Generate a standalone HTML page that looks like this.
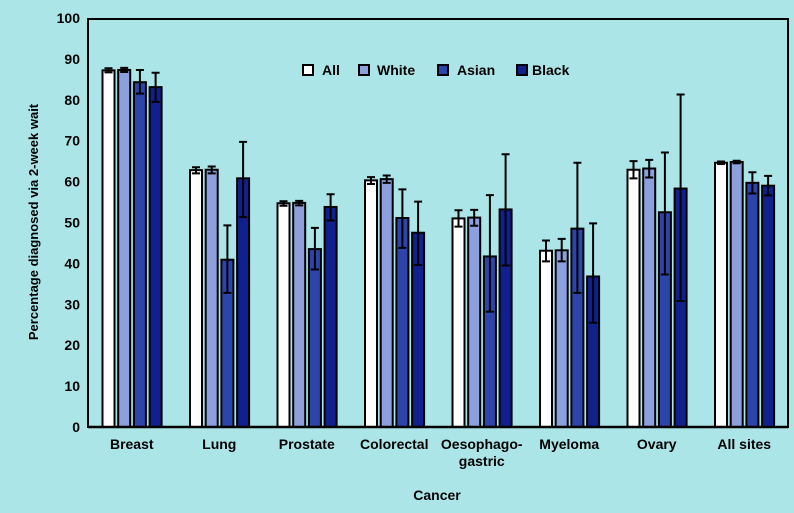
<!DOCTYPE html>
<html><head><meta charset="utf-8"><style>
body{margin:0;background:#ace5e7;}
svg{display:block;font-family:"Liberation Sans",sans-serif;}
</style></head><body>
<svg id="c" width="794" height="513">
<rect width="794" height="513" fill="#ace5e7"/>
</svg>
<script>
const categories=["Breast","Lung","Prostate","Colorectal","Oesophago-|gastric","Myeloma","Ovary","All sites"];
const seriesNames=["All","White","Asian","Black"];
const allVals=[87.2,62.8,54.7,60.3,51.0,43.1,62.9,64.6];
const allLo=[86.7,62.0,54.1,59.4,49.0,40.5,60.8,64.3];
const allHi=[87.7,63.5,55.2,61.1,53.0,45.6,65.0,64.9];
const whiteVals=[87.3,62.9,54.8,60.6,51.2,43.2,63.2,64.8];
const whiteLo=[86.8,62.0,54.2,59.7,49.2,40.5,61.0,64.5];
const whiteHi=[87.8,63.7,55.3,61.5,53.1,46.0,65.3,65.1];
const asianVals=[84.3,40.9,43.5,51.1,41.7,48.5,52.5,59.7];
const asianLo=[81.5,32.8,38.5,43.8,28.2,32.8,37.3,57.1];
const asianHi=[87.3,49.3,48.7,58.1,56.7,64.6,67.1,62.3];
const blackVals=[83.1,60.8,53.8,47.5,53.2,36.8,58.3,59.0];
const blackLo=[79.5,51.3,50.5,39.6,39.5,25.5,30.8,56.6];
const blackHi=[86.6,69.7,56.9,55.1,66.7,49.8,81.3,61.4];
const yTicks=[0,10,20,30,40,50,60,70,80,90,100];
const colors=["#ffffff","#8d9fdc","#2d45aa","#10208c"];
const vals=[allVals,whiteVals,asianVals,blackVals],los=[allLo,whiteLo,asianLo,blackLo],his=[allHi,whiteHi,asianHi,blackHi];
const NS="http://www.w3.org/2000/svg",svg=document.getElementById('c');
const X0=88,X1=788,Y0=427,Y100=18,GW=(X1-X0)/categories.length;
const y=v=>Y0-(v/100)*(Y0-Y100);
function mk(t,a,p){const e=document.createElementNS(NS,t);for(const k in a)e.setAttribute(k,a[k]);(p||svg).appendChild(e);return e;}
const box=mk('rect',{x:X0,y:Y100+1,width:X1-X0,height:Y0-Y100-1,fill:'none',stroke:'#000','stroke-width':2});


yTicks.forEach(t=>{const tx=mk('text',{x:80,y:y(t)+5,'text-anchor':'end','font-size':14,'font-weight':'bold',fill:'#000'});tx.textContent=t;

});
categories.forEach((c,i)=>{
 const g0=X0+i*GW;
 for(let s=0;s<4;s++){
  const bx=g0+14.5+s*15.7,v=vals[s][i];
  const r=mk('rect',{x:bx,y:y(v),width:12,height:Y0-y(v),fill:colors[s],stroke:'#000','stroke-width':2});
  
  
  const cx=bx+6,lo=y(los[s][i]),hi=y(his[s][i]);
  const eb=mk('path',{d:`M${cx},${lo}V${hi}M${cx-4},${lo}H${cx+4}M${cx-4},${hi}H${cx+4}`,stroke:'#000','stroke-width':2,fill:'none'});
  
  
 }
 const lines=c.split('|');
 lines.forEach((ln,j)=>{const t=mk('text',{x:g0+GW/2,y:449+j*17,'text-anchor':'middle','font-size':14,'font-weight':'bold',fill:'#000'});t.textContent=ln;
 
 });
});
mk('line',{x1:X0,y1:Y0,x2:X1,y2:Y0,stroke:'#000','stroke-width':2.5});
const legX=[303,359,438,517],legT=[322,377,457,532];
seriesNames.forEach((n,s)=>{
 const r=mk('rect',{x:legX[s],y:65,width:10,height:10,fill:colors[s],stroke:'#000','stroke-width':2});
 
 
 const t=mk('text',{x:legT[s],y:75,'font-size':14,'font-weight':'bold',fill:'#000'});t.textContent=n;
 
 
});
const yt=mk('text',{x:0,y:0,transform:'translate(38,222) rotate(-90)','text-anchor':'middle','font-size':13,'font-weight':'bold',fill:'#000'});yt.textContent='Percentage diagnosed via 2-week wait';


const xt=mk('text',{x:437,y:500,'text-anchor':'middle','font-size':14,'font-weight':'bold',fill:'#000'});xt.textContent='Cancer';


</script>
</body></html>
